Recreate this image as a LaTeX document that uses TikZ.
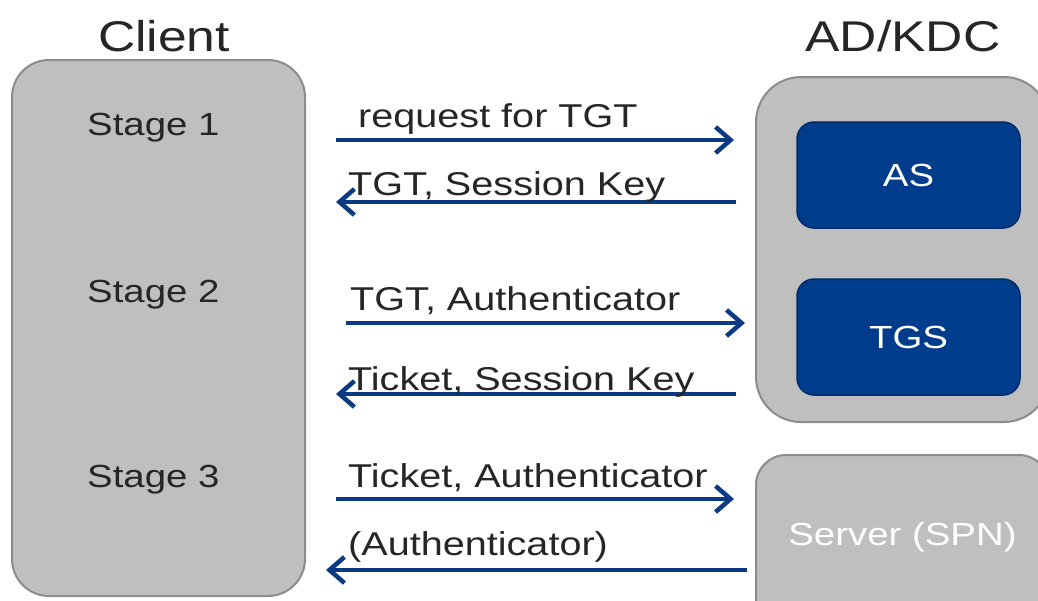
\documentclass[tikz,border=0pt]{standalone}
\usepackage{fontspec}
\setmainfont{Liberation Sans}[FakeStretch=1.2]
\usetikzlibrary{arrows.meta}
\definecolor{boxgrey}{HTML}{BFBFBF}
\definecolor{edgegrey}{HTML}{8C8C8C}
\definecolor{navy}{HTML}{003C8C}
\definecolor{navyedge}{HTML}{002B66}
\definecolor{msgblue}{HTML}{0B3A82}
\definecolor{ink}{HTML}{262626}
\tikzset{
  panel/.style={draw=edgegrey, line width=2pt, fill=boxgrey, inner sep=0pt},
  service/.style={draw=navyedge, line width=1.5pt, fill=navy, rounded corners=17pt,
    minimum width=223pt, text=white, inner sep=0pt,
    font=\fontsize{32}{36}\selectfont},
  heading/.style={text=ink, inner sep=0pt, font=\fontsize{43}{48}\selectfont},
  stagelbl/.style={text=ink, inner sep=0pt, anchor=base west, font=\fontsize{32}{36}\selectfont},
  msglbl/.style={text=ink, inner sep=0pt, anchor=base west, font=\fontsize{33}{38}\selectfont},
  msg/.style={draw=msgblue, line width=4.5pt,
    -{Straight Barb[length=15pt,width=26pt,line width=4.5pt]}},
}
\begin{document}
\begin{tikzpicture}[x=1pt, y=-1pt]
\useasboundingbox (0,0) rectangle (1038,600);
\clip (0,0) rectangle (1038,600);
\fill[white] (0,0) rectangle (1038,600);

% headings
\node[heading] (clienthead) at (164,36) {Client};
\node[heading] (kdchead) at (903,36) {AD/KDC};

% client column
\node[panel, rounded corners=37pt, minimum width=293pt, minimum height=536pt]
  (client) at (158.5,328) {};
\node[stagelbl] (s1) at (87,135) {Stage 1};
\node[stagelbl] (s2) at (87,302) {Stage 2};
\node[stagelbl] (s3) at (87,487) {Stage 3};

% AD/KDC with its two services
\node[panel, rounded corners=45pt, minimum width=293pt, minimum height=345pt]
  (kdc) at (902.5,249.5) {};
\node[service, minimum height=106pt] (as) at (908.5,175) {AS};
\node[service, minimum height=116pt] (tgs) at (908.5,337) {TGS};

% target server
\node[panel, rounded corners=30pt, minimum width=293pt, minimum height=180pt]
  (server) at (902.5,545) {};
\node[text=white, inner sep=0pt, anchor=base, font=\fontsize{32}{36}\selectfont]
  (serverlbl) at (902.5,545) {Server (SPN)};

% message levels
\coordinate (m1) at (0,140);
\coordinate (m2) at (0,202);
\coordinate (m3) at (0,323);
\coordinate (m4) at (0,394);
\coordinate (m5) at (0,499);
\coordinate (m6) at (0,570);

% stage 1: AS exchange
\draw[msg, shorten <=30pt, shorten >=21pt] (client.east |- m1) -- (kdc.west |- m1);
\draw[msg, shorten <=19pt, shorten >=30pt] (kdc.west |- m2) -- (client.east |- m2);
\node[msglbl] (l1) at (358,127) {request for TGT};
\node[msglbl] (l2) at (348,195) {TGT, Session Key};

% stage 2: TGS exchange
\draw[msg, shorten <=40pt, shorten >=10pt] (client.east |- m3) -- (kdc.west |- m3);
\draw[msg, shorten <=19pt, shorten >=30pt] (kdc.west |- m4) -- (client.east |- m4);
\node[msglbl] (l3) at (350,310) {TGT, Authenticator};
\node[msglbl] (l4) at (348,390) {Ticket, Session Key};

% stage 3: client/server exchange
\draw[msg, shorten <=30pt, shorten >=21pt] (client.east |- m5) -- (server.west |- m5);
\draw[msg, shorten <=8pt, shorten >=20pt] (server.west |- m6) -- (client.east |- m6);
\node[msglbl] (l5) at (348,487) {Ticket, Authenticator};
\node[msglbl] (l6) at (348,555) {(Authenticator)};
\end{tikzpicture}
\end{document}
